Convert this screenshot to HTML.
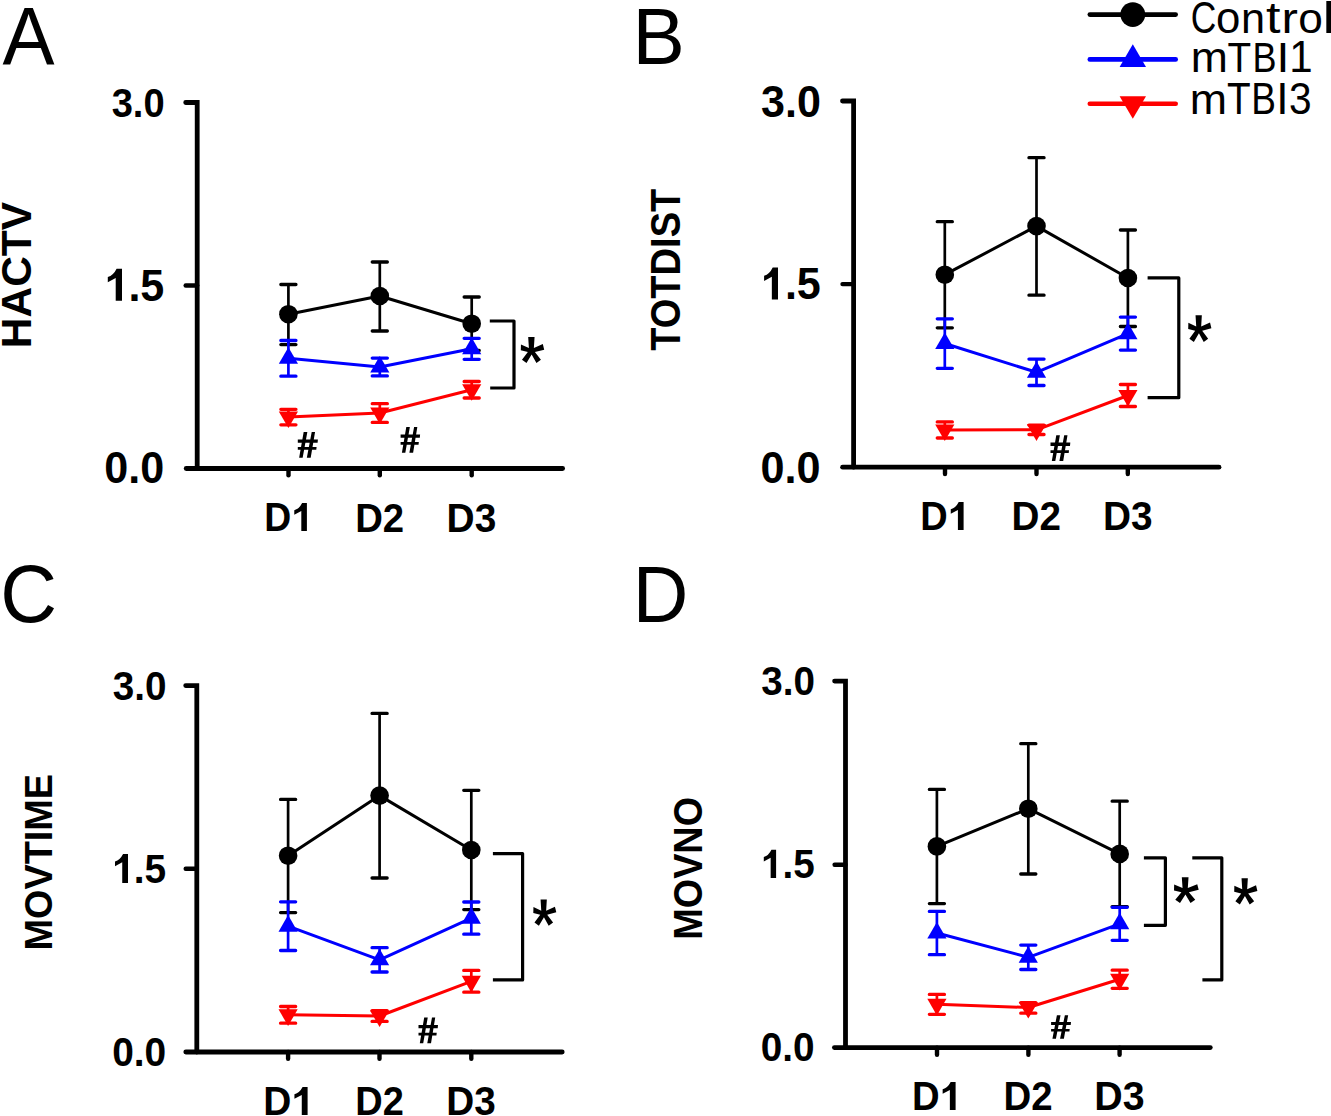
<!DOCTYPE html>
<html><head><meta charset="utf-8"><style>
html,body{margin:0;padding:0;background:#fff;width:1331px;height:1116px;overflow:hidden}
svg{display:block;font-family:"Liberation Sans",sans-serif}
</style></head><body>
<svg width="1331" height="1116" viewBox="0 0 1331 1116" font-family="Liberation Sans" font-size="100">
<rect width="1331" height="1116" fill="#fff"/>
<text transform="translate(2.61,64.00) scale(0.7803,0.8102)" font-weight="400" fill="#000">A</text>
<text transform="translate(632.52,64.00) scale(0.7850,0.8043)" font-weight="400" fill="#000">B</text>
<text transform="translate(0.17,621.99) scale(0.7857,0.8141)" font-weight="400" fill="#000">C</text>
<text transform="translate(632.64,621.80) scale(0.7697,0.8043)" font-weight="400" fill="#000">D</text>
<text transform="translate(30.77,348.16) rotate(-90) scale(0.4249,0.4282)" font-weight="700" fill="#000">HACTV</text>
<text transform="translate(680.18,350.78) rotate(-90) scale(0.3807,0.4197)" font-weight="700" fill="#000">TOTDIST</text>
<text transform="translate(51.92,950.56) rotate(-90) scale(0.3788,0.3831)" font-weight="700" fill="#000">MOVTIME</text>
<text transform="translate(702.30,939.76) rotate(-90) scale(0.3782,0.3972)" font-weight="700" fill="#000">MOVNO</text>
<text transform="translate(111.65,117.19) scale(0.3811,0.4113)" font-weight="700" fill="#000">3.0</text>
<path d="M116.60,268.80 L122.00,268.80 L122.00,300.80 L115.71,300.80 L115.71,277.95 L107.80,282.18 L107.80,277.06 Q113.34,275.55 116.60,268.80 Z" fill="#000"/>
<text transform="translate(128.38,300.56) scale(0.4313,0.4429)" font-weight="700" fill="#000">.5</text>
<text transform="translate(104.27,483.45) scale(0.4313,0.4451)" font-weight="700" fill="#000">0.0</text>
<text transform="translate(761.12,116.76) scale(0.4309,0.4394)" font-weight="700" fill="#000">3.0</text>
<path d="M772.72,267.60 L778.00,267.60 L778.00,299.60 L771.84,299.60 L771.84,276.75 L764.10,280.98 L764.10,275.86 Q769.52,274.35 772.72,267.60 Z" fill="#000"/>
<text transform="translate(784.88,299.36) scale(0.4313,0.4429)" font-weight="700" fill="#000">.5</text>
<text transform="translate(760.57,482.66) scale(0.4321,0.4437)" font-weight="700" fill="#000">0.0</text>
<text transform="translate(112.73,700.09) scale(0.3872,0.4070)" font-weight="700" fill="#000">3.0</text>
<path d="M123.06,854.10 L128.00,854.10 L128.00,882.90 L122.24,882.90 L122.24,862.34 L115.00,866.14 L115.00,861.53 Q120.07,860.18 123.06,854.10 Z" fill="#000"/>
<text transform="translate(133.68,882.79) scale(0.3891,0.4057)" font-weight="700" fill="#000">.5</text>
<text transform="translate(112.14,1065.59) scale(0.3893,0.4085)" font-weight="700" fill="#000">0.0</text>
<text transform="translate(761.23,695.39) scale(0.3864,0.4056)" font-weight="700" fill="#000">3.0</text>
<path d="M771.43,849.80 L776.10,849.80 L776.10,877.90 L770.65,877.90 L770.65,857.84 L763.80,861.55 L763.80,857.05 Q768.60,855.73 771.43,849.80 Z" fill="#000"/>
<text transform="translate(782.50,877.99) scale(0.3864,0.4057)" font-weight="700" fill="#000">.5</text>
<text transform="translate(760.75,1060.99) scale(0.3878,0.4070)" font-weight="700" fill="#000">0.0</text>
<text transform="translate(264.27,531.10) scale(0.3732,0.4087)" font-weight="700" fill="#000">D</text>
<path d="M302.10,502.90 L306.90,502.90 L306.90,531.10 L301.31,531.10 L301.31,510.97 L294.28,514.69 L294.28,510.18 Q299.20,508.85 302.10,502.90 Z" fill="#000"/>
<text transform="translate(355.21,531.70) scale(0.3830,0.4057)" font-weight="700" fill="#000">D2</text>
<text transform="translate(446.57,531.60) scale(0.3889,0.4042)" font-weight="700" fill="#000">D3</text>
<text transform="translate(920.23,530.10) scale(0.3797,0.4087)" font-weight="700" fill="#000">D</text>
<path d="M958.72,501.90 L963.60,501.90 L963.60,530.10 L957.91,530.10 L957.91,509.97 L950.76,513.69 L950.76,509.18 Q955.77,507.85 958.72,501.90 Z" fill="#000"/>
<text transform="translate(1011.59,530.20) scale(0.3864,0.4000)" font-weight="700" fill="#000">D2</text>
<text transform="translate(1102.98,530.10) scale(0.3881,0.3986)" font-weight="700" fill="#000">D3</text>
<text transform="translate(263.17,1115.00) scale(0.3890,0.4058)" font-weight="700" fill="#000">D</text>
<path d="M302.60,1087.00 L307.60,1087.00 L307.60,1115.00 L301.77,1115.00 L301.77,1095.01 L294.44,1098.70 L294.44,1094.22 Q299.57,1092.91 302.60,1087.00 Z" fill="#000"/>
<text transform="translate(355.23,1115.00) scale(0.3796,0.4000)" font-weight="700" fill="#000">D2</text>
<text transform="translate(446.28,1114.90) scale(0.3872,0.3986)" font-weight="700" fill="#000">D3</text>
<text transform="translate(911.91,1110.10) scale(0.3825,0.4058)" font-weight="700" fill="#000">D</text>
<path d="M950.68,1082.10 L955.60,1082.10 L955.60,1110.10 L949.87,1110.10 L949.87,1090.11 L942.66,1093.80 L942.66,1089.32 Q947.71,1088.01 950.68,1082.10 Z" fill="#000"/>
<text transform="translate(1003.51,1110.10) scale(0.3838,0.4000)" font-weight="700" fill="#000">D2</text>
<text transform="translate(1094.34,1110.00) scale(0.3932,0.3986)" font-weight="700" fill="#000">D3</text>
<path d="M185.70,102.50 H197.20 V468.50" fill="none" stroke="#000" stroke-width="4.8" stroke-linecap="round" stroke-linejoin="miter"/>
<path d="M185.70,285.50 H197.20" stroke="#000" stroke-width="4.4" stroke-linecap="round"/>
<path d="M186.20,468.50 H562.60" stroke="#000" stroke-width="4.8" stroke-linecap="round"/>
<path d="M288.50,468.50 V475.30" stroke="#000" stroke-width="4.4" stroke-linecap="round"/>
<path d="M379.80,468.50 V475.30" stroke="#000" stroke-width="4.4" stroke-linecap="round"/>
<path d="M471.70,468.50 V475.30" stroke="#000" stroke-width="4.4" stroke-linecap="round"/>
<path d="M842.50,101.00 H853.60 V467.20" fill="none" stroke="#000" stroke-width="4.8" stroke-linecap="round" stroke-linejoin="miter"/>
<path d="M842.50,284.10 H853.60" stroke="#000" stroke-width="4.4" stroke-linecap="round"/>
<path d="M842.60,467.20 H1219.00" stroke="#000" stroke-width="4.8" stroke-linecap="round"/>
<path d="M945.00,467.20 V474.10" stroke="#000" stroke-width="4.4" stroke-linecap="round"/>
<path d="M1036.50,467.20 V474.10" stroke="#000" stroke-width="4.4" stroke-linecap="round"/>
<path d="M1127.80,467.20 V474.10" stroke="#000" stroke-width="4.4" stroke-linecap="round"/>
<path d="M185.70,685.60 H196.80 V1052.00" fill="none" stroke="#000" stroke-width="4.8" stroke-linecap="round" stroke-linejoin="miter"/>
<path d="M185.70,868.80 H196.80" stroke="#000" stroke-width="4.4" stroke-linecap="round"/>
<path d="M185.80,1052.00 H562.20" stroke="#000" stroke-width="4.8" stroke-linecap="round"/>
<path d="M288.10,1052.00 V1058.70" stroke="#000" stroke-width="4.4" stroke-linecap="round"/>
<path d="M379.50,1052.00 V1058.70" stroke="#000" stroke-width="4.4" stroke-linecap="round"/>
<path d="M471.30,1052.00 V1058.70" stroke="#000" stroke-width="4.4" stroke-linecap="round"/>
<path d="M834.60,681.10 H845.50 V1047.60" fill="none" stroke="#000" stroke-width="4.8" stroke-linecap="round" stroke-linejoin="miter"/>
<path d="M834.60,864.70 H845.50" stroke="#000" stroke-width="4.4" stroke-linecap="round"/>
<path d="M834.40,1047.60 H1210.30" stroke="#000" stroke-width="4.8" stroke-linecap="round"/>
<path d="M937.00,1047.60 V1054.70" stroke="#000" stroke-width="4.4" stroke-linecap="round"/>
<path d="M1028.40,1047.60 V1054.70" stroke="#000" stroke-width="4.4" stroke-linecap="round"/>
<path d="M1119.60,1047.60 V1054.70" stroke="#000" stroke-width="4.4" stroke-linecap="round"/>
<path d="M288.40,314.20 L379.80,296.00 L471.70,323.70" fill="none" stroke="#000000" stroke-width="3.0" stroke-linejoin="round"/>
<path d="M288.40,284.50 V344.60" stroke="#000000" stroke-width="2.7"/>
<path d="M280.85,284.50 H295.95 M280.85,344.60 H295.95" stroke="#000000" stroke-width="3.3" stroke-linecap="round"/>
<path d="M379.80,262.00 V331.00" stroke="#000000" stroke-width="2.7"/>
<path d="M372.25,262.00 H387.35 M372.25,331.00 H387.35" stroke="#000000" stroke-width="3.3" stroke-linecap="round"/>
<path d="M471.70,297.00 V350.40" stroke="#000000" stroke-width="2.7"/>
<path d="M464.15,297.00 H479.25 M464.15,350.40 H479.25" stroke="#000000" stroke-width="3.3" stroke-linecap="round"/>
<circle cx="288.40" cy="314.20" r="9.3" fill="#000000"/>
<circle cx="379.80" cy="296.00" r="9.3" fill="#000000"/>
<circle cx="471.70" cy="323.70" r="9.3" fill="#000000"/>
<path d="M288.40,358.30 L379.80,367.00 L471.70,348.70" fill="none" stroke="#0000ff" stroke-width="3.0" stroke-linejoin="round"/>
<path d="M288.40,340.50 V376.20" stroke="#0000ff" stroke-width="2.7"/>
<path d="M280.85,340.50 H295.95 M280.85,376.20 H295.95" stroke="#0000ff" stroke-width="3.3" stroke-linecap="round"/>
<path d="M379.80,358.10 V375.90" stroke="#0000ff" stroke-width="2.7"/>
<path d="M372.25,358.10 H387.35 M372.25,375.90 H387.35" stroke="#0000ff" stroke-width="3.3" stroke-linecap="round"/>
<path d="M471.70,338.30 V359.30" stroke="#0000ff" stroke-width="2.7"/>
<path d="M464.15,338.30 H479.25 M464.15,359.30 H479.25" stroke="#0000ff" stroke-width="3.3" stroke-linecap="round"/>
<path d="M288.40,347.21 L298.00,363.84 L278.80,363.84 Z" fill="#0000ff"/>
<path d="M379.80,355.91 L389.40,372.54 L370.20,372.54 Z" fill="#0000ff"/>
<path d="M471.70,337.61 L481.30,354.24 L462.10,354.24 Z" fill="#0000ff"/>
<path d="M288.40,417.00 L379.80,413.00 L471.70,389.70" fill="none" stroke="#ff0000" stroke-width="3.0" stroke-linejoin="round"/>
<path d="M288.40,409.30 V424.80" stroke="#ff0000" stroke-width="2.7"/>
<path d="M280.85,409.30 H295.95 M280.85,424.80 H295.95" stroke="#ff0000" stroke-width="3.3" stroke-linecap="round"/>
<path d="M379.80,403.70 V422.40" stroke="#ff0000" stroke-width="2.7"/>
<path d="M372.25,403.70 H387.35 M372.25,422.40 H387.35" stroke="#ff0000" stroke-width="3.3" stroke-linecap="round"/>
<path d="M471.70,381.50 V398.00" stroke="#ff0000" stroke-width="2.7"/>
<path d="M464.15,381.50 H479.25 M464.15,398.00 H479.25" stroke="#ff0000" stroke-width="3.3" stroke-linecap="round"/>
<path d="M288.40,428.09 L298.00,411.46 L278.80,411.46 Z" fill="#ff0000"/>
<path d="M379.80,424.09 L389.40,407.46 L370.20,407.46 Z" fill="#ff0000"/>
<path d="M471.70,400.79 L481.30,384.16 L462.10,384.16 Z" fill="#ff0000"/>
<path d="M944.80,274.70 L1036.50,226.10 L1127.90,278.00" fill="none" stroke="#000000" stroke-width="3.0" stroke-linejoin="round"/>
<path d="M944.80,221.70 V327.80" stroke="#000000" stroke-width="2.7"/>
<path d="M937.25,221.70 H952.35 M937.25,327.80 H952.35" stroke="#000000" stroke-width="3.3" stroke-linecap="round"/>
<path d="M1036.50,157.70 V295.20" stroke="#000000" stroke-width="2.7"/>
<path d="M1028.95,157.70 H1044.05 M1028.95,295.20 H1044.05" stroke="#000000" stroke-width="3.3" stroke-linecap="round"/>
<path d="M1127.90,230.00 V326.50" stroke="#000000" stroke-width="2.7"/>
<path d="M1120.35,230.00 H1135.45 M1120.35,326.50 H1135.45" stroke="#000000" stroke-width="3.3" stroke-linecap="round"/>
<circle cx="944.80" cy="274.70" r="9.3" fill="#000000"/>
<circle cx="1036.50" cy="226.10" r="9.3" fill="#000000"/>
<circle cx="1127.90" cy="278.00" r="9.3" fill="#000000"/>
<path d="M944.80,343.50 L1036.50,372.30 L1127.90,333.60" fill="none" stroke="#0000ff" stroke-width="3.0" stroke-linejoin="round"/>
<path d="M944.80,318.80 V368.30" stroke="#0000ff" stroke-width="2.7"/>
<path d="M937.25,318.80 H952.35 M937.25,368.30 H952.35" stroke="#0000ff" stroke-width="3.3" stroke-linecap="round"/>
<path d="M1036.50,359.10 V385.50" stroke="#0000ff" stroke-width="2.7"/>
<path d="M1028.95,359.10 H1044.05 M1028.95,385.50 H1044.05" stroke="#0000ff" stroke-width="3.3" stroke-linecap="round"/>
<path d="M1127.90,317.10 V350.10" stroke="#0000ff" stroke-width="2.7"/>
<path d="M1120.35,317.10 H1135.45 M1120.35,350.10 H1135.45" stroke="#0000ff" stroke-width="3.3" stroke-linecap="round"/>
<path d="M944.80,332.41 L954.40,349.04 L935.20,349.04 Z" fill="#0000ff"/>
<path d="M1036.50,361.21 L1046.10,377.84 L1026.90,377.84 Z" fill="#0000ff"/>
<path d="M1127.90,322.51 L1137.50,339.14 L1118.30,339.14 Z" fill="#0000ff"/>
<path d="M944.80,430.00 L1036.50,429.80 L1127.90,395.50" fill="none" stroke="#ff0000" stroke-width="3.0" stroke-linejoin="round"/>
<path d="M944.80,421.90 V438.00" stroke="#ff0000" stroke-width="2.7"/>
<path d="M937.25,421.90 H952.35 M937.25,438.00 H952.35" stroke="#ff0000" stroke-width="3.3" stroke-linecap="round"/>
<path d="M1036.50,425.10 V434.50" stroke="#ff0000" stroke-width="2.7"/>
<path d="M1028.95,425.10 H1044.05 M1028.95,434.50 H1044.05" stroke="#ff0000" stroke-width="3.3" stroke-linecap="round"/>
<path d="M1127.90,384.50 V406.50" stroke="#ff0000" stroke-width="2.7"/>
<path d="M1120.35,384.50 H1135.45 M1120.35,406.50 H1135.45" stroke="#ff0000" stroke-width="3.3" stroke-linecap="round"/>
<path d="M944.80,441.09 L954.40,424.46 L935.20,424.46 Z" fill="#ff0000"/>
<path d="M1036.50,440.89 L1046.10,424.26 L1026.90,424.26 Z" fill="#ff0000"/>
<path d="M1127.90,406.59 L1137.50,389.96 L1118.30,389.96 Z" fill="#ff0000"/>
<path d="M288.10,855.70 L379.60,795.60 L471.30,850.00" fill="none" stroke="#000000" stroke-width="3.0" stroke-linejoin="round"/>
<path d="M288.10,799.40 V912.60" stroke="#000000" stroke-width="2.7"/>
<path d="M280.55,799.40 H295.65 M280.55,912.60 H295.65" stroke="#000000" stroke-width="3.3" stroke-linecap="round"/>
<path d="M379.60,713.40 V878.00" stroke="#000000" stroke-width="2.7"/>
<path d="M372.05,713.40 H387.15 M372.05,878.00 H387.15" stroke="#000000" stroke-width="3.3" stroke-linecap="round"/>
<path d="M471.30,790.30 V909.60" stroke="#000000" stroke-width="2.7"/>
<path d="M463.75,790.30 H478.85 M463.75,909.60 H478.85" stroke="#000000" stroke-width="3.3" stroke-linecap="round"/>
<circle cx="288.10" cy="855.70" r="9.3" fill="#000000"/>
<circle cx="379.60" cy="795.60" r="9.3" fill="#000000"/>
<circle cx="471.30" cy="850.00" r="9.3" fill="#000000"/>
<path d="M288.10,926.20 L379.60,959.80 L471.30,918.10" fill="none" stroke="#0000ff" stroke-width="3.0" stroke-linejoin="round"/>
<path d="M288.10,901.80 V950.50" stroke="#0000ff" stroke-width="2.7"/>
<path d="M280.55,901.80 H295.65 M280.55,950.50 H295.65" stroke="#0000ff" stroke-width="3.3" stroke-linecap="round"/>
<path d="M379.60,947.70 V972.00" stroke="#0000ff" stroke-width="2.7"/>
<path d="M372.05,947.70 H387.15 M372.05,972.00 H387.15" stroke="#0000ff" stroke-width="3.3" stroke-linecap="round"/>
<path d="M471.30,902.00 V934.20" stroke="#0000ff" stroke-width="2.7"/>
<path d="M463.75,902.00 H478.85 M463.75,934.20 H478.85" stroke="#0000ff" stroke-width="3.3" stroke-linecap="round"/>
<path d="M288.10,915.11 L297.70,931.74 L278.50,931.74 Z" fill="#0000ff"/>
<path d="M379.60,948.71 L389.20,965.34 L370.00,965.34 Z" fill="#0000ff"/>
<path d="M471.30,907.01 L480.90,923.64 L461.70,923.64 Z" fill="#0000ff"/>
<path d="M288.10,1014.80 L379.60,1016.00 L471.30,981.30" fill="none" stroke="#ff0000" stroke-width="3.0" stroke-linejoin="round"/>
<path d="M288.10,1006.50 V1023.20" stroke="#ff0000" stroke-width="2.7"/>
<path d="M280.55,1006.50 H295.65 M280.55,1023.20 H295.65" stroke="#ff0000" stroke-width="3.3" stroke-linecap="round"/>
<path d="M379.60,1010.60 V1021.40" stroke="#ff0000" stroke-width="2.7"/>
<path d="M372.05,1010.60 H387.15 M372.05,1021.40 H387.15" stroke="#ff0000" stroke-width="3.3" stroke-linecap="round"/>
<path d="M471.30,970.40 V992.20" stroke="#ff0000" stroke-width="2.7"/>
<path d="M463.75,970.40 H478.85 M463.75,992.20 H478.85" stroke="#ff0000" stroke-width="3.3" stroke-linecap="round"/>
<path d="M288.10,1025.89 L297.70,1009.26 L278.50,1009.26 Z" fill="#ff0000"/>
<path d="M379.60,1027.09 L389.20,1010.46 L370.00,1010.46 Z" fill="#ff0000"/>
<path d="M471.30,992.39 L480.90,975.76 L461.70,975.76 Z" fill="#ff0000"/>
<path d="M936.90,846.40 L1028.30,808.70 L1119.70,853.90" fill="none" stroke="#000000" stroke-width="3.0" stroke-linejoin="round"/>
<path d="M936.90,789.40 V903.60" stroke="#000000" stroke-width="2.7"/>
<path d="M929.35,789.40 H944.45 M929.35,903.60 H944.45" stroke="#000000" stroke-width="3.3" stroke-linecap="round"/>
<path d="M1028.30,743.70 V874.00" stroke="#000000" stroke-width="2.7"/>
<path d="M1020.75,743.70 H1035.85 M1020.75,874.00 H1035.85" stroke="#000000" stroke-width="3.3" stroke-linecap="round"/>
<path d="M1119.70,801.20 V906.60" stroke="#000000" stroke-width="2.7"/>
<path d="M1112.15,801.20 H1127.25 M1112.15,906.60 H1127.25" stroke="#000000" stroke-width="3.3" stroke-linecap="round"/>
<circle cx="936.90" cy="846.40" r="9.3" fill="#000000"/>
<circle cx="1028.30" cy="808.70" r="9.3" fill="#000000"/>
<circle cx="1119.70" cy="853.90" r="9.3" fill="#000000"/>
<path d="M936.90,933.00 L1028.30,957.30 L1119.70,923.80" fill="none" stroke="#0000ff" stroke-width="3.0" stroke-linejoin="round"/>
<path d="M936.90,911.40 V954.70" stroke="#0000ff" stroke-width="2.7"/>
<path d="M929.35,911.40 H944.45 M929.35,954.70 H944.45" stroke="#0000ff" stroke-width="3.3" stroke-linecap="round"/>
<path d="M1028.30,945.10 V969.50" stroke="#0000ff" stroke-width="2.7"/>
<path d="M1020.75,945.10 H1035.85 M1020.75,969.50 H1035.85" stroke="#0000ff" stroke-width="3.3" stroke-linecap="round"/>
<path d="M1119.70,907.30 V940.30" stroke="#0000ff" stroke-width="2.7"/>
<path d="M1112.15,907.30 H1127.25 M1112.15,940.30 H1127.25" stroke="#0000ff" stroke-width="3.3" stroke-linecap="round"/>
<path d="M936.90,921.91 L946.50,938.54 L927.30,938.54 Z" fill="#0000ff"/>
<path d="M1028.30,946.21 L1037.90,962.84 L1018.70,962.84 Z" fill="#0000ff"/>
<path d="M1119.70,912.71 L1129.30,929.34 L1110.10,929.34 Z" fill="#0000ff"/>
<path d="M936.90,1004.30 L1028.30,1007.50 L1119.70,979.30" fill="none" stroke="#ff0000" stroke-width="3.0" stroke-linejoin="round"/>
<path d="M936.90,994.40 V1014.30" stroke="#ff0000" stroke-width="2.7"/>
<path d="M929.35,994.40 H944.45 M929.35,1014.30 H944.45" stroke="#ff0000" stroke-width="3.3" stroke-linecap="round"/>
<path d="M1028.30,1002.60 V1013.20" stroke="#ff0000" stroke-width="2.7"/>
<path d="M1020.75,1002.60 H1035.85 M1020.75,1013.20 H1035.85" stroke="#ff0000" stroke-width="3.3" stroke-linecap="round"/>
<path d="M1119.70,970.20 V988.30" stroke="#ff0000" stroke-width="2.7"/>
<path d="M1112.15,970.20 H1127.25 M1112.15,988.30 H1127.25" stroke="#ff0000" stroke-width="3.3" stroke-linecap="round"/>
<path d="M936.90,1015.39 L946.50,998.76 L927.30,998.76 Z" fill="#ff0000"/>
<path d="M1028.30,1018.59 L1037.90,1001.96 L1018.70,1001.96 Z" fill="#ff0000"/>
<path d="M1119.70,990.39 L1129.30,973.76 L1110.10,973.76 Z" fill="#ff0000"/>
<path d="M489.80,321.00 H514.00 V388.00 H490.20" fill="none" stroke="#000" stroke-width="3.2" stroke-linejoin="round" stroke-linecap="butt"/>
<path d="M528.19,337.10 L534.56,337.10 L533.88,347.96 L542.82,344.07 L544.20,349.66 L534.91,352.04 L540.92,359.67 L536.45,362.90 L531.63,354.41 L526.49,362.90 L521.99,359.67 L527.84,352.04 L520.80,350.34 L520.96,344.40 L528.90,347.96 Z" fill="#000"/>
<path d="M303.67,432.10 L307.35,432.10 L302.66,457.70 L299.15,457.70 Z M311.71,432.10 L315.05,432.10 L310.70,457.70 L306.84,457.70 Z M297.80,439.45 L317.90,439.45 L317.60,442.70 L297.80,442.70 Z M297.80,447.10 L316.59,447.10 L316.29,449.87 L297.80,449.87 Z" fill="#000"/>
<path d="M406.29,427.10 L409.86,427.10 L405.32,452.70 L401.91,452.70 Z M414.09,427.10 L417.33,427.10 L413.12,452.70 L409.38,452.70 Z M400.60,434.45 L420.10,434.45 L419.81,437.70 L400.60,437.70 Z M400.60,442.10 L418.83,442.10 L418.54,444.87 L400.60,444.87 Z" fill="#000"/>
<path d="M1147.60,277.90 H1178.80 V397.70 H1147.60" fill="none" stroke="#000" stroke-width="3.2" stroke-linejoin="round" stroke-linecap="butt"/>
<path d="M1195.53,315.30 L1201.84,315.30 L1201.17,326.54 L1210.03,322.51 L1211.40,328.30 L1202.19,330.76 L1208.15,338.66 L1203.72,342.00 L1198.94,333.22 L1193.84,342.00 L1189.38,338.66 L1195.18,330.76 L1188.20,329.00 L1188.36,322.86 L1196.23,326.54 Z" fill="#000"/>
<path d="M1056.28,435.20 L1059.90,435.20 L1055.29,461.00 L1051.83,461.00 Z M1064.20,435.20 L1067.49,435.20 L1063.21,461.00 L1059.41,461.00 Z M1050.50,442.60 L1070.30,442.60 L1070.00,445.88 L1050.50,445.88 Z M1050.50,450.32 L1069.01,450.32 L1068.72,453.11 L1050.50,453.11 Z" fill="#000"/>
<path d="M492.90,853.60 H522.60 V979.90 H492.90" fill="none" stroke="#000" stroke-width="3.2" stroke-linejoin="round" stroke-linecap="butt"/>
<path d="M540.57,899.60 L546.82,899.60 L546.16,910.63 L554.94,906.67 L556.30,912.36 L547.17,914.77 L553.08,922.52 L548.69,925.80 L543.95,917.18 L538.89,925.80 L534.47,922.52 L540.22,914.77 L533.30,913.04 L533.46,907.01 L541.26,910.63 Z" fill="#000"/>
<path d="M424.19,1017.60 L427.76,1017.60 L423.22,1043.30 L419.81,1043.30 Z M431.99,1017.60 L435.23,1017.60 L431.02,1043.30 L427.27,1043.30 Z M418.50,1024.98 L438.00,1024.98 L437.71,1028.24 L418.50,1028.24 Z M418.50,1032.66 L436.73,1032.66 L436.44,1035.44 L418.50,1035.44 Z" fill="#000"/>
<path d="M1143.90,857.80 H1165.40 V925.30 H1143.90" fill="none" stroke="#000" stroke-width="3.2" stroke-linejoin="round" stroke-linecap="butt"/>
<path d="M1181.81,877.20 L1188.52,877.20 L1187.81,888.06 L1197.24,884.17 L1198.70,889.76 L1188.89,892.14 L1195.24,899.77 L1190.52,903.00 L1185.44,894.51 L1180.00,903.00 L1175.26,899.77 L1181.43,892.14 L1174.00,890.44 L1174.17,884.50 L1182.55,888.06 Z" fill="#000"/>
<path d="M1192.30,857.80 H1221.80 V979.90 H1202.40" fill="none" stroke="#000" stroke-width="3.2" stroke-linejoin="round" stroke-linecap="butt"/>
<path d="M1241.53,878.30 L1247.84,878.30 L1247.17,889.33 L1256.03,885.37 L1257.40,891.06 L1248.19,893.47 L1254.15,901.23 L1249.72,904.50 L1244.94,895.88 L1239.84,904.50 L1235.38,901.23 L1241.18,893.47 L1234.20,891.74 L1234.36,885.71 L1242.23,889.33 Z" fill="#000"/>
<path d="M1056.91,1015.20 L1060.55,1015.20 L1055.92,1038.70 L1052.43,1038.70 Z M1064.87,1015.20 L1068.17,1015.20 L1063.88,1038.70 L1060.05,1038.70 Z M1051.10,1021.94 L1071.00,1021.94 L1070.70,1024.93 L1051.10,1024.93 Z M1051.10,1028.97 L1069.71,1028.97 L1069.41,1031.51 L1051.10,1031.51 Z" fill="#000"/>
<path d="M1089.80,14.6 H1175.70" stroke="#000" stroke-width="4.6" stroke-linecap="round"/>
<circle cx="1132.8" cy="14.6" r="12.4" fill="#000"/>
<path d="M1089.80,59.4 H1175.70" stroke="#00f" stroke-width="4.6" stroke-linecap="round"/>
<path d="M1132.8,44.3 L1146,67 L1119.6,67 Z" fill="#00f"/>
<path d="M1089.80,103.7 H1175.70" stroke="#f00" stroke-width="4.6" stroke-linecap="round"/>
<path d="M1119.6,96.2 L1146,96.2 L1132.8,118.8 Z" fill="#f00"/>
<text transform="translate(1190.83,32.76) scale(0.3540,0.4394)" font-weight="400" fill="#000">C</text>
<text transform="translate(1215.95,32.77) scale(0.4379,0.4345)" font-weight="400" fill="#000">o</text>
<text transform="translate(1240.99,32.70) scale(0.4329,0.4278)" font-weight="400" fill="#000">n</text>
<text transform="translate(1265.92,33.06) scale(0.5216,0.4382)" font-weight="400" fill="#000">t</text>
<text transform="translate(1281.60,32.70) scale(0.4920,0.4222)" font-weight="400" fill="#000">r</text>
<text transform="translate(1298.23,32.87) scale(0.4421,0.4309)" font-weight="400" fill="#000">o</text>
<text transform="translate(1322.62,32.70) scale(0.5667,0.4414)" font-weight="400" fill="#000">l</text>
<text transform="translate(1190.70,72.20) scale(0.4457,0.4259)" font-weight="400" fill="#000">m</text>
<text transform="translate(1227.53,72.20) scale(0.3876,0.4319)" font-weight="400" fill="#000">T</text>
<text transform="translate(1252.41,72.20) scale(0.3607,0.4319)" font-weight="400" fill="#000">B</text>
<text transform="translate(1276.53,72.20) scale(0.4632,0.4319)" font-weight="400" fill="#000">I</text>
<text transform="translate(1289.24,72.20) scale(0.4209,0.4348)" font-weight="400" fill="#000">1</text>
<text transform="translate(1189.69,114.20) scale(0.4471,0.4259)" font-weight="400" fill="#000">m</text>
<text transform="translate(1227.03,114.20) scale(0.3876,0.4362)" font-weight="400" fill="#000">T</text>
<text transform="translate(1251.34,114.20) scale(0.3701,0.4362)" font-weight="400" fill="#000">B</text>
<text transform="translate(1276.22,114.20) scale(0.4421,0.4362)" font-weight="400" fill="#000">I</text>
<text transform="translate(1289.07,114.26) scale(0.4064,0.4366)" font-weight="400" fill="#000">3</text>
</svg>
</body></html>
